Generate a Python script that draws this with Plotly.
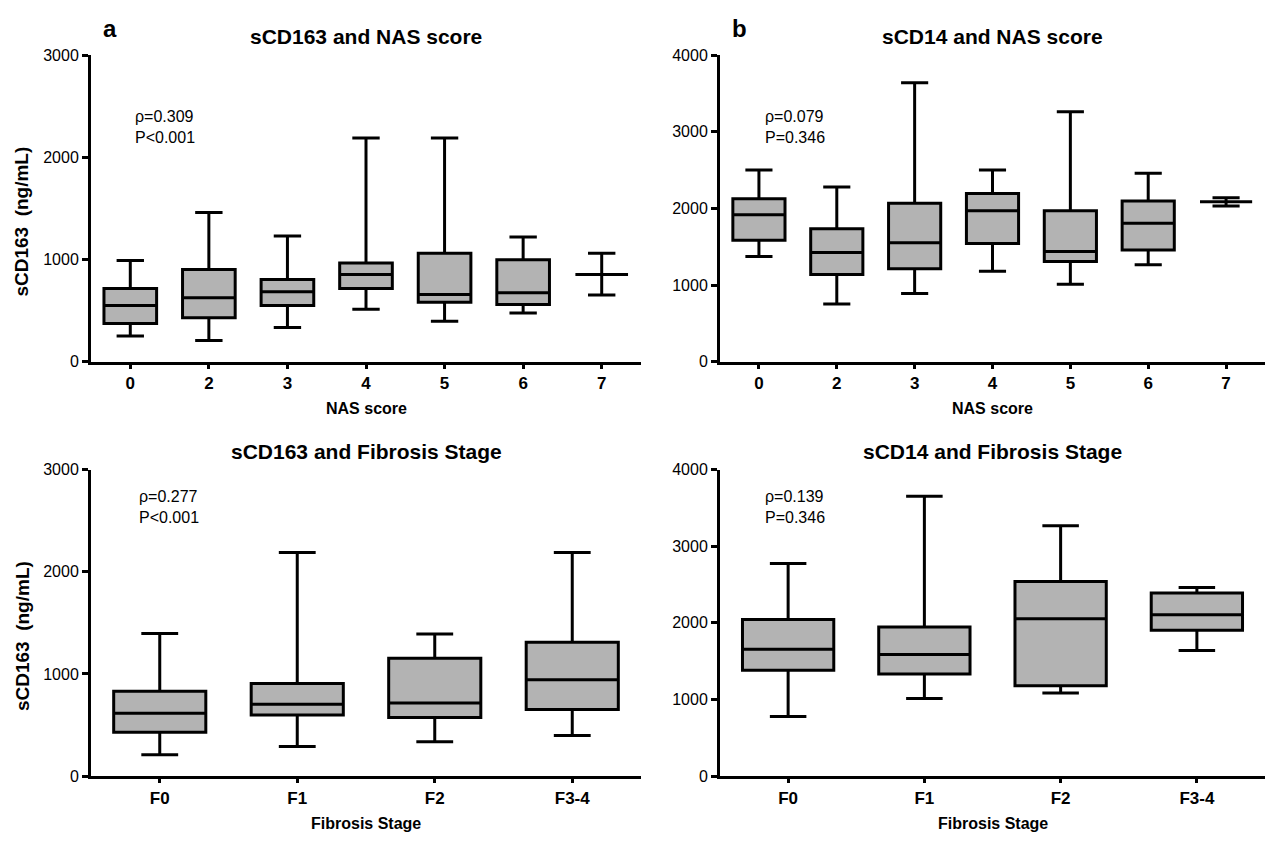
import plotly.graph_objects as go

W, H = 1265, 844

# ---------------- data ----------------
nas_cats = ["0", "2", "3", "4", "5", "6", "7"]
fib_cats = ["F0", "F1", "F2", "F3-4"]

# sCD163 vs NAS score (ng/mL)
cd163_nas_low = [252, 208, 335, 514, 396, 476, 652]
cd163_nas_q1 = [374, 431, 550, 716, 581, 559, 853]
cd163_nas_med = [550, 626, 684, 853, 658, 674, 853]
cd163_nas_q3 = [716, 901, 805, 965, 1061, 997, 853]
cd163_nas_high = [990, 1460, 1230, 2188, 2188, 1220, 1061]

# sCD14 vs NAS score (ng/mL)
cd14_nas_low = [1372, 754, 890, 1180, 1010, 1265, 2032]
cd14_nas_q1 = [1585, 1138, 1214, 1542, 1308, 1457, 2085]
cd14_nas_med = [1917, 1423, 1551, 1968, 1436, 1806, 2085]
cd14_nas_q3 = [2126, 1734, 2066, 2194, 1968, 2096, 2085]
cd14_nas_high = [2500, 2279, 3638, 2500, 3259, 2458, 2138]

# sCD163 vs fibrosis stage
cd163_fib_low = [210, 290, 338, 398]
cd163_fib_q1 = [430, 599, 574, 653]
cd163_fib_med = [615, 704, 717, 944]
cd163_fib_q3 = [832, 908, 1154, 1310]
cd163_fib_high = [1395, 2187, 1390, 2187]

# sCD14 vs fibrosis stage
cd14_fib_low = [779, 1013, 1085, 1638]
cd14_fib_q1 = [1383, 1332, 1179, 1902]
cd14_fib_med = [1655, 1587, 2055, 2106]
cd14_fib_q3 = [2043, 1945, 2540, 2391]
cd14_fib_high = [2774, 3651, 3268, 2460]

titles = ["sCD163 and NAS score", "sCD14 and NAS score",
          "sCD163 and Fibrosis Stage", "sCD14 and Fibrosis Stage"]
stats_text = ["ρ=0.309<br>P<0.001", "ρ=0.079<br>P=0.346",
              "ρ=0.277<br>P<0.001", "ρ=0.139<br>P=0.346"]
x_titles = ["NAS score", "NAS score", "Fibrosis Stage", "Fibrosis Stage"]
y_title = "sCD163\u00a0\u00a0(ng/mL)"

# ---------------- layout helpers ----------------
FONT = "Liberation Sans, Arial, Helvetica, sans-serif"
FILL = "#b3b3b3"

def px_x(p):
    return p / W

def px_y(p):
    return 1 - p / H

xdom_left = [px_x(91), px_x(641)]
xdom_right = [px_x(720), 1.0]
ydom_top = [px_y(361), px_y(48)]
ydom_bot = [px_y(784), px_y(471)]

fig = go.Figure()

def add_box(cats, low, q1, med, q3, high, xa, ya, ww):
    fig.add_trace(go.Box(
        x=cats, q1=q1, median=med, q3=q3, lowerfence=low, upperfence=high,
        boxpoints=False, fillcolor=FILL,
        line=dict(color="black", width=3),
        whiskerwidth=ww, width=0.67,
        xaxis=xa, yaxis=ya, showlegend=False, hoverinfo="skip",
    ))

add_box(nas_cats, cd163_nas_low, cd163_nas_q1, cd163_nas_med, cd163_nas_q3, cd163_nas_high, "x", "y", 0.52)
add_box(nas_cats, cd14_nas_low, cd14_nas_q1, cd14_nas_med, cd14_nas_q3, cd14_nas_high, "x2", "y2", 0.52)
add_box(fib_cats, cd163_fib_low, cd163_fib_q1, cd163_fib_med, cd163_fib_q3, cd163_fib_high, "x3", "y3", 0.4)
add_box(fib_cats, cd14_fib_low, cd14_fib_q1, cd14_fib_med, cd14_fib_q3, cd14_fib_high, "x4", "y4", 0.4)

def xaxis(dom, anchor, cats):
    return dict(
        domain=dom, anchor=anchor, type="category",
        categoryorder="array", categoryarray=cats,
        range=[-0.5, len(cats) - 0.5],
        showline=True, linecolor="black", linewidth=3,
        ticks="outside", ticklen=4, tickwidth=3, tickcolor="black",
        tickfont=dict(family=FONT, size=17, color="black", weight="bold"),
        showgrid=False, zeroline=False, fixedrange=True,
    )

def yaxis(dom, anchor, top):
    return dict(
        domain=dom, anchor=anchor, range=[0, top],
        tickvals=list(range(0, top + 1, 1000)),
        showline=True, linecolor="black", linewidth=3,
        ticks="outside", ticklen=6, tickwidth=3, tickcolor="black",
        tickfont=dict(family=FONT, size=16, color="black"),
        showgrid=False, zeroline=False, fixedrange=True,
    )

fig.update_layout(
    width=W, height=H,
    margin=dict(l=0, r=0, t=0, b=0),
    paper_bgcolor="white", plot_bgcolor="white",
    showlegend=False,
    xaxis=xaxis(xdom_left, "y", nas_cats),
    yaxis=yaxis(ydom_top, "x", 3000),
    xaxis2=xaxis(xdom_right, "y2", nas_cats),
    yaxis2=yaxis(ydom_top, "x2", 4000),
    xaxis3=xaxis(xdom_left, "y3", fib_cats),
    yaxis3=yaxis(ydom_bot, "x3", 3000),
    xaxis4=xaxis(xdom_right, "y4", fib_cats),
    yaxis4=yaxis(ydom_bot, "x4", 4000),
)

ann = []
centers = [(xdom_left[0] + xdom_left[1]) / 2, (xdom_right[0] + xdom_right[1]) / 2]
title_y = [px_y(29), px_y(453)]
xt_y = [px_y(409), px_y(832)]
stat_pos = [(133, 110), (763, 110), (137, 498), (763, 498)]
for i in range(4):
    col = i % 2
    row = i // 2
    ann.append(dict(x=centers[col], y=title_y[row], xref="paper", yref="paper",
                    text=titles[i], showarrow=False, xanchor="center", yanchor="middle",
                    font=dict(family=FONT, size=21, color="black", weight="bold")))
    ann.append(dict(x=centers[col], y=xt_y[row], xref="paper", yref="paper",
                    text=x_titles[i], showarrow=False, xanchor="center", yanchor="middle",
                    font=dict(family=FONT, size=16, color="black", weight="bold")))
    sx, sy = stat_pos[i]
    ann.append(dict(x=px_x(sx), y=px_y(sy - 10), xref="paper", yref="paper",
                    text=stats_text[i], showarrow=False, xanchor="left", yanchor="top",
                    align="left",
                    font=dict(family=FONT, size=16, color="black")))

for row, yc in enumerate([204, 627]):
    ann.append(dict(x=px_x(22), y=px_y(yc + 14), xref="paper", yref="paper",
                    text=y_title, showarrow=False, textangle=-90,
                    xanchor="center", yanchor="middle",
                    font=dict(family=FONT, size=19, color="black", weight="bold")))

ann.append(dict(x=px_x(110), y=px_y(21), xref="paper", yref="paper", text="a",
                showarrow=False, xanchor="center", yanchor="middle",
                font=dict(family=FONT, size=24, color="black", weight="bold")))
ann.append(dict(x=px_x(740), y=px_y(21), xref="paper", yref="paper", text="b",
                showarrow=False, xanchor="center", yanchor="middle",
                font=dict(family=FONT, size=24, color="black", weight="bold")))

fig.update_layout(annotations=ann)
fig.write_html(
    "out.html",
    config={"displayModeBar": False},
    post_script="document.body.style.margin='0';document.body.style.overflow='hidden';",
)
